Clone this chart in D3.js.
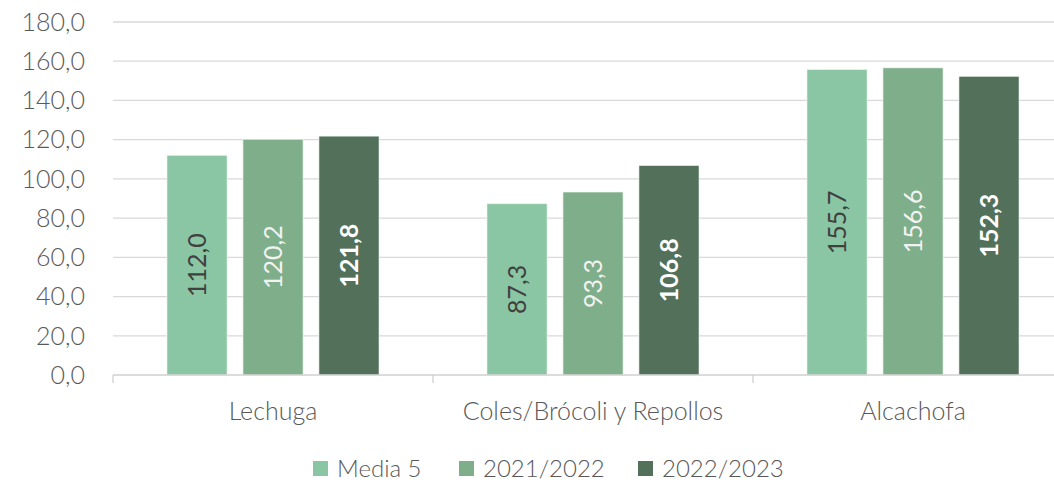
<!DOCTYPE html>
<meta charset="utf-8" />
<head>
  <script src="https://d3js.org/d3.v7.min.js"></script>
  <style>
    body { margin: 0; background: #fff; }
    text { font-family: Lato, "Open Sans", sans-serif; font-weight: 300; }
  </style>
</head>
<body>
  <div id="chart"></div>
</body>
<script>
  const categories = ["Lechuga", "Coles/Brócoli y Repollos", "Alcachofa"];
  const seriesNames = ["Media 5", "2021/2022", "2022/2023"];
  const media5 = [112.0, 87.3, 155.7];
  const y2122 = [120.2, 93.3, 156.6];
  const y2223 = [121.8, 106.8, 152.3];
  const yTicks = [0, 20, 40, 60, 80, 100, 120, 140, 160, 180];

  const colors = ["#8AC6A4", "#7EAF8A", "#52705A"];
  const labelColors = ["#404040", "#F2F2F2", "#FFFFFF"];
  const labelWeights = [400, 400, 700];

  const W = 1054, H = 483;
  const margin = { top: 22, left: 113, bottom: 108 };
  const plotW = 960; // extends past the right edge like the original
  const plotH = H - margin.top - margin.bottom;

  const fmt = (v) => v.toFixed(1).replace(".", ",");

  const svg = d3.select("#chart").append("svg")
    .attr("width", W).attr("height", H);
  const g = svg.append("g")
    .attr("transform", "translate(" + margin.left + "," + margin.top + ")");

  const y = d3.scaleLinear().domain([0, 180]).range([plotH, 0]);
  const x0 = d3.scaleBand().domain(categories).range([0, plotW]).paddingInner(0).paddingOuter(0);
  const x1 = d3.scaleBand().domain(seriesNames).range([54, 320 - 54]).paddingInner(0.21).paddingOuter(0);

  // gridlines
  g.selectAll("line.grid").data(yTicks.filter(d => d > 0)).enter()
    .append("line")
    .attr("x1", 0).attr("x2", plotW)
    .attr("y1", d => y(d)).attr("y2", d => y(d))
    .attr("stroke", "#D9D9D9").attr("stroke-width", 1.3);

  // y tick labels
  g.selectAll("text.ytick").data(yTicks).enter()
    .append("text")
    .attr("x", -28).attr("y", d => y(d))
    .attr("dy", "0.35em")
    .attr("text-anchor", "end")
    .attr("fill", "#595959")
    .style("font-size", "25px")
    .text(d => fmt(d));

  const data = categories.map((c, i) => ({
    cat: c,
    vals: [media5[i], y2122[i], y2223[i]]
  }));

  const groups = g.selectAll("g.cat").data(data).enter()
    .append("g")
    .attr("transform", d => "translate(" + x0(d.cat) + ",0)");

  groups.selectAll("rect").data(d => d.vals.map((v, j) => ({ v, j }))).enter()
    .append("rect")
    .attr("x", d => x1(seriesNames[d.j]))
    .attr("y", d => y(d.v))
    .attr("width", x1.bandwidth())
    .attr("height", d => plotH - y(d.v))
    .attr("fill", d => colors[d.j])
    .attr("stroke", "#E8F2EC").attr("stroke-width", 0.6);

  groups.selectAll("text.lbl").data(d => d.vals.map((v, j) => ({ v, j }))).enter()
    .append("text")
    .attr("transform", d => {
      const cx = x1(seriesNames[d.j]) + x1.bandwidth() / 2;
      const cy = (y(d.v) + plotH) / 2;
      return "translate(" + cx + "," + cy + ") rotate(-90)";
    })
    .attr("text-anchor", "middle")
    .attr("dy", "0.35em")
    .attr("fill", d => labelColors[d.j])
    .style("font-weight", d => labelWeights[d.j])
    .style("font-size", "25px")
    .text(d => fmt(d.v));

  // x axis line and ticks
  g.append("line")
    .attr("x1", 0).attr("x2", plotW)
    .attr("y1", plotH).attr("y2", plotH)
    .attr("stroke", "#D0D0D0").attr("stroke-width", 1.3);
  g.selectAll("line.xtick").data(categories).enter()
    .append("line")
    .attr("x1", d => x0(d)).attr("x2", d => x0(d))
    .attr("y1", plotH).attr("y2", plotH + 8)
    .attr("stroke", "#D0D0D0").attr("stroke-width", 1.3);
  g.selectAll("text.xlbl").data(categories).enter()
    .append("text")
    .attr("x", d => x0(d) + x0.bandwidth() / 2)
    .attr("y", plotH + 45)
    .attr("text-anchor", "middle")
    .attr("fill", "#595959")
    .style("font-size", "25px")
    .text(d => d);

  // legend
  const legendX = [313, 459, 638];
  const leg = svg.selectAll("g.leg").data(seriesNames).enter()
    .append("g")
    .attr("transform", (d, i) => "translate(" + legendX[i] + ",461)");
  leg.append("rect")
    .attr("width", 15).attr("height", 15)
    .attr("fill", (d, i) => colors[i]);
  leg.append("text")
    .attr("x", 24).attr("y", 16)
    .attr("fill", "#595959")
    .style("font-size", "24px")
    .text(d => d);
</script>
